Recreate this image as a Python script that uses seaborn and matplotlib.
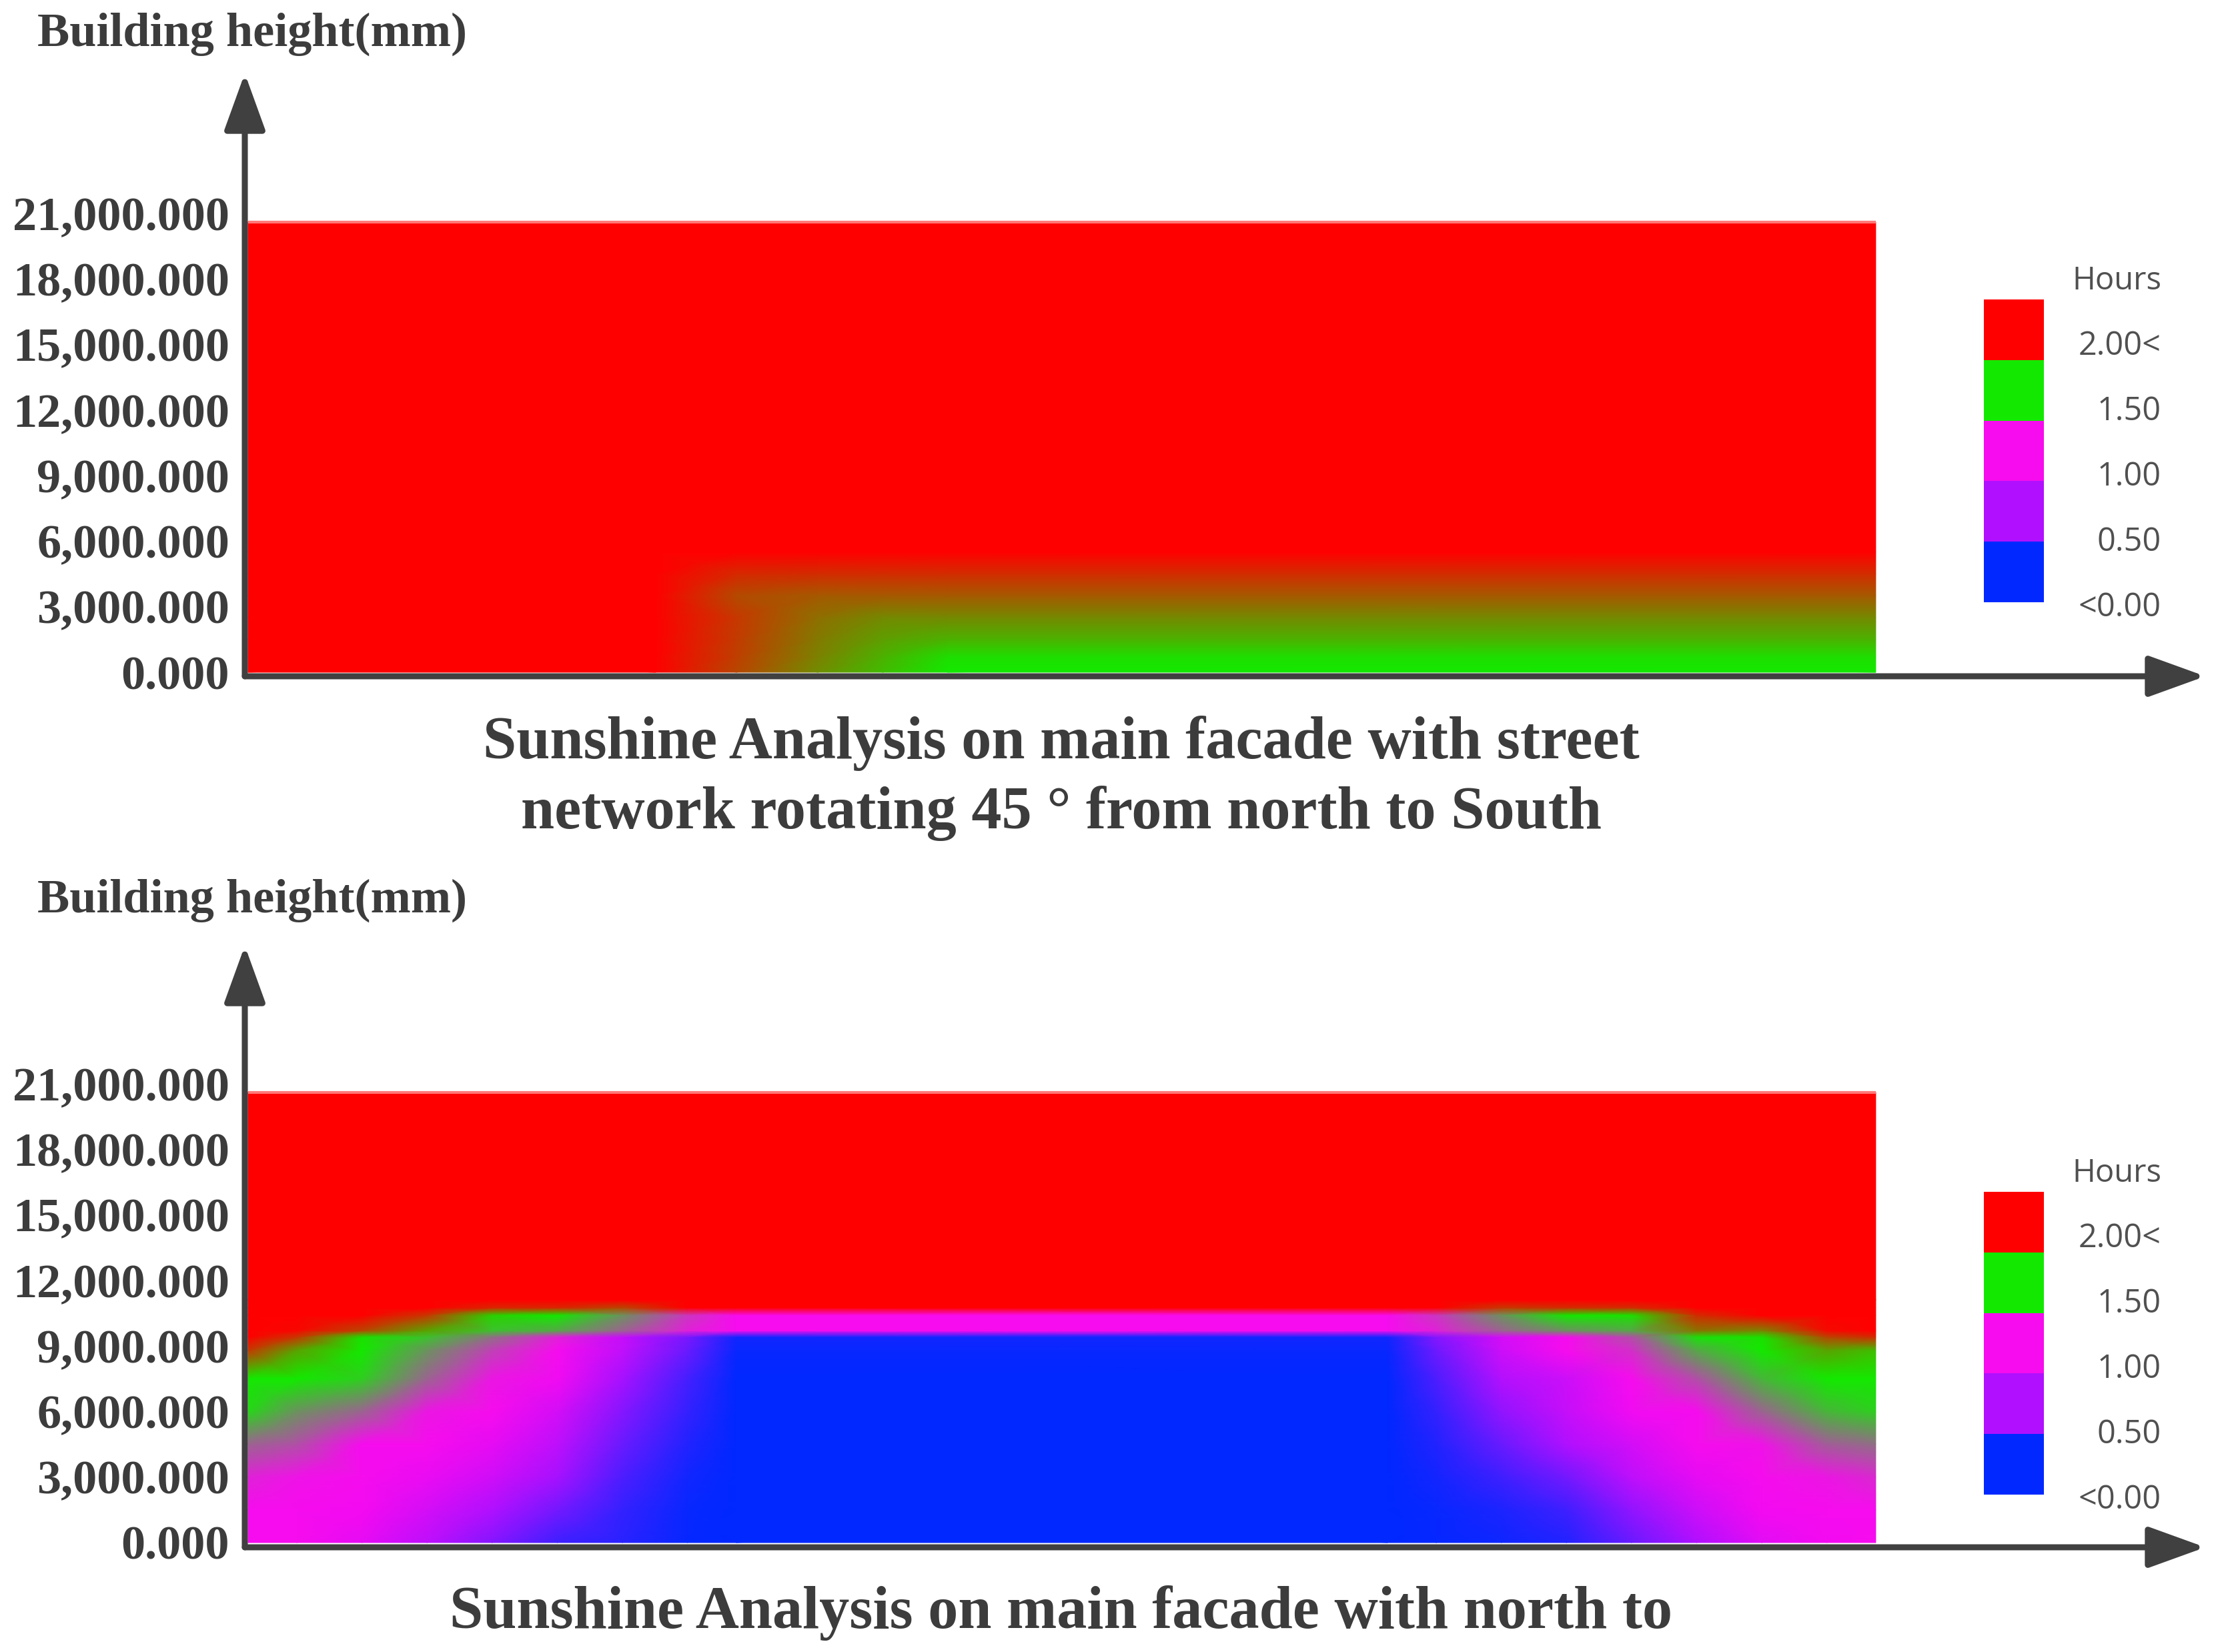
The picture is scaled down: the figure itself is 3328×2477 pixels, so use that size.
import numpy as np
import matplotlib
matplotlib.use("Agg")
import matplotlib.pyplot as plt
import seaborn as sns
from matplotlib.colors import LinearSegmentedColormap, Normalize

# sunshine hours scale (legend)
legend_levels = [2.0, 1.5, 1.0, 0.5, 0.0]
legend_labels = ["2.00<", "1.50", "1.00", "0.50", "<0.00"]
# colours for 0, 0.5, 1.0, 1.5, 2.0 hours
scale_colors = ["#0028FF", "#B010FF", "#F80AF0", "#10EC00", "#FF0000"]

height_ticks = [0, 3000, 6000, 9000, 12000, 15000, 18000, 21000]
building_height = 20600

# facade 1: street network rotated 45 deg (x = position along facade, 0..1)
top_pos = [0, 0.25, 0.30, 0.35, 0.39, 0.43, 1.0]
top_heights = [0, 700, 1500, 2500, 3500, 4500, 5500, 20600]
top_hours = [
    [2.0, 2.0, 1.85, 1.70, 1.60, 1.50, 1.50],
    [2.0, 2.0, 1.86, 1.72, 1.62, 1.53, 1.53],
    [2.0, 2.0, 1.87, 1.74, 1.66, 1.62, 1.62],
    [2.0, 2.0, 1.88, 1.76, 1.71, 1.71, 1.71],
    [2.0, 2.0, 1.84, 1.81, 1.81, 1.81, 1.81],
    [2.0, 2.0, 1.91, 1.90, 1.90, 1.90, 1.90],
    [2.0, 2.0, 2.0, 2.0, 2.0, 2.0, 2.0],
    [2.0, 2.0, 2.0, 2.0, 2.0, 2.0, 2.0],
]

# facade 2: north to south
bot_pos = [0, 0.03, 0.07, 0.11, 0.15, 0.19, 0.23, 0.27, 0.30,
           0.70, 0.73, 0.77, 0.81, 0.85, 0.89, 0.93, 0.97, 1.0]
bot_heights = [0, 1500, 3000, 4500, 6000, 7500, 8800, 9400, 9700, 10400, 10750, 11100, 20600]
bot_hours = [
    [1.0, 1.0, 0.88, 0.6, 0.38, 0.18, 0.12, 0.02, 0.0, 0.0, 0.02, 0.04, 0.1, 0.3, 0.5, 0.85, 0.97, 1.0],
    [1.0, 1.0, 0.97, 0.75, 0.5, 0.33, 0.15, 0.03, 0.0, 0.0, 0.03, 0.08, 0.18, 0.42, 0.7, 0.97, 1.0, 1.0],
    [1.05, 1.02, 1.0, 0.9, 0.72, 0.47, 0.22, 0.05, 0.0, 0.0, 0.06, 0.18, 0.33, 0.6, 0.88, 1.0, 1.03, 1.07],
    [1.2, 1.15, 1.0, 1.0, 0.88, 0.6, 0.3, 0.1, 0.0, 0.0, 0.1, 0.3, 0.5, 0.75, 1.0, 1.02, 1.18, 1.22],
    [1.45, 1.3, 1.2, 1.03, 1.0, 0.75, 0.38, 0.15, 0.0, 0.0, 0.15, 0.42, 0.65, 0.95, 1.0, 1.2, 1.38, 1.43],
    [1.5, 1.5, 1.43, 1.2, 1.03, 0.95, 0.47, 0.2, 0.0, 0.0, 0.22, 0.52, 0.7, 1.0, 1.15, 1.38, 1.5, 1.5],
    [1.88, 1.65, 1.5, 1.3, 1.12, 1.0, 0.62, 0.3, 0.03, 0.03, 0.32, 0.7, 1.0, 1.08, 1.35, 1.5, 1.65, 1.6],
    [2.0, 1.88, 1.52, 1.4, 1.22, 1.05, 0.65, 0.35, 0.05, 0.05, 0.38, 0.75, 1.0, 1.15, 1.47, 1.52, 1.85, 1.9],
    [2.0, 1.98, 1.85, 1.65, 1.4, 1.35, 1.2, 1.05, 1.0, 1.0, 1.05, 1.2, 1.3, 1.35, 1.75, 1.72, 1.97, 2.0],
    [2.0, 2.0, 2.0, 1.88, 1.55, 1.5, 1.3, 1.1, 1.0, 1.0, 1.1, 1.3, 1.5, 1.52, 1.9, 2.0, 2.0, 2.0],
    [2.0, 2.0, 2.0, 2.0, 1.92, 1.92, 1.85, 2.0, 2.0, 2.0, 2.0, 1.88, 1.9, 1.9, 2.0, 2.0, 2.0, 2.0],
    [2.0] * 18,
    [2.0] * 18,
]

top_title = "Sunshine Analysis on main facade with street\nnetwork rotating 45 ° from north to South"
bot_title = "Sunshine Analysis on main facade with north to"

sns.set_theme(style="white")
plt.rcParams["font.family"] = ["Liberation Serif", "DejaVu Serif"]

W, H = 3328, 2477
ink = "#3c3c3c"
cmap = LinearSegmentedColormap.from_list(
    "hours", list(zip([0, 0.25, 0.5, 0.75, 1.0], scale_colors)))
norm = Normalize(0, 2)

fig = plt.figure(figsize=(W / 100, H / 100), dpi=100)


def fx(x):
    return x / W


def fy(y):
    return 1 - y / H


def draw_panel(pos, heights, hours, ax_box, ylims, legend_top, title, title_y, label_y):
    ax = fig.add_axes(ax_box)
    ax.pcolormesh(np.array(pos), np.array(heights), np.array(hours),
                  shading="gouraud", cmap=cmap, norm=norm, zorder=1)
    ax.plot([0, 1], [building_height, building_height], color="#ff7a7a", lw=3, zorder=2,
            solid_capstyle="butt")
    ax.set_xlim(-0.002, 1.2025)
    ax.set_ylim(*ylims)
    for s in ax.spines.values():
        s.set_visible(False)
    ax.set_xticks([])
    ax.set_yticks(height_ticks)
    ax.set_yticklabels([f"{t:,.3f}" for t in height_ticks], fontsize=52,
                       fontweight="bold", color=ink)
    ax.tick_params(axis="y", length=0, pad=16.5)
    arrow = dict(arrowstyle="-|>,head_length=1.05,head_width=0.38", color="#404040",
                 lw=6.5, mutation_scale=50, shrinkA=0, shrinkB=0)
    ax.annotate("", xy=(1, 0), xytext=(0, 0), xycoords="axes fraction", arrowprops=arrow)
    ax.annotate("", xy=(0, 1), xytext=(0, 0), xycoords="axes fraction", arrowprops=arrow)

    fig.text(fx(378), fy(label_y), "Building height(mm)", ha="center", va="center",
             fontsize=52, fontweight="bold", color=ink)

    # legend boxes
    lax = fig.add_axes([fx(2974), fy(legend_top + 454), fx(90), 454 / H])
    sns.heatmap(np.array(legend_levels).reshape(-1, 1), ax=lax, cmap=cmap, vmin=0, vmax=2,
                cbar=False, xticklabels=False, yticklabels=False)
    fig.text(fx(3240), fy(legend_top - 28), "Hours", ha="right", va="center",
             fontsize=34, family="Open Sans", color="#505050")
    for i, lab in enumerate(legend_labels):
        fig.text(fx(3240), fy(legend_top + 70 + 98 * i), lab, ha="right", va="center",
                 fontsize=35, family="Open Sans", color="#505050")

    fig.text(fx(1591), fy(title_y), title, ha="center", va="center", fontsize=65,
             fontweight="bold", color=ink, linespacing=1.33)


draw_panel(top_pos, top_heights, top_hours,
           [fx(367), fy(1014), fx(3306 - 367), (1014 - 110) / H],
           (-183, 27403), 449, top_title, 1167, 51)
draw_panel(bot_pos, bot_heights, bot_hours,
           [fx(367), fy(2320), fx(3306 - 367), (2320 - 1418) / H],
           (-214, 27311), 1787, bot_title, 2419, 1350)

fig.savefig("out.png", dpi=100, facecolor="white")
